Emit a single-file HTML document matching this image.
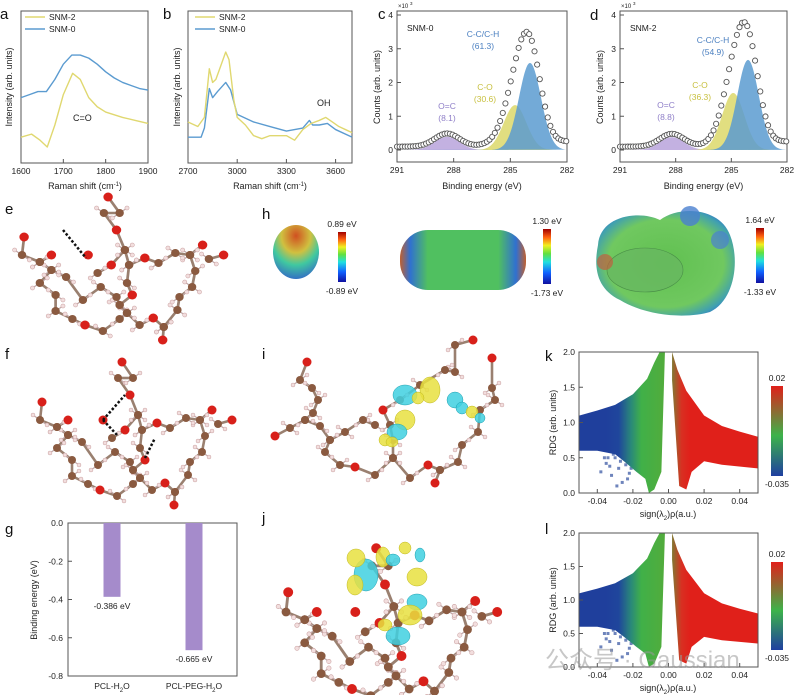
<!DOCTYPE html>
<html><head><meta charset="utf-8">
<style>
html,body{margin:0;padding:0;background:#fff;}
svg{display:block;font-family:"Liberation Sans","Noto Sans CJK SC",sans-serif;}
</style></head>
<body>
<svg id="fig" width="794" height="695" viewBox="0 0 794 695" xmlns="http://www.w3.org/2000/svg">
<defs>
<linearGradient id="rainbow" x1="0" y1="1" x2="0" y2="0">
<stop offset="0" stop-color="#1010a0"/><stop offset="0.2" stop-color="#1060ff"/><stop offset="0.4" stop-color="#20e0e0"/><stop offset="0.55" stop-color="#60e040"/><stop offset="0.7" stop-color="#f0f020"/><stop offset="0.85" stop-color="#ff6010"/><stop offset="1" stop-color="#a00000"/>
</linearGradient>
<linearGradient id="rdgbar" x1="0" y1="1" x2="0" y2="0">
<stop offset="0" stop-color="#1f3fa0"/><stop offset="0.45" stop-color="#3db34a"/><stop offset="1" stop-color="#e0201a"/>
</linearGradient>
<radialGradient id="esp1" cx="0.5" cy="0.2" r="0.9">
<stop offset="0" stop-color="#d05020"/><stop offset="0.35" stop-color="#d0c040"/><stop offset="0.6" stop-color="#40c8a0"/><stop offset="1" stop-color="#3050d0"/>
</radialGradient>
<linearGradient id="esp2" x1="0" y1="0" x2="1" y2="0">
<stop offset="0" stop-color="#c06030"/><stop offset="0.08" stop-color="#3070d0"/><stop offset="0.22" stop-color="#50c060"/><stop offset="0.78" stop-color="#50c060"/><stop offset="0.92" stop-color="#3070d0"/><stop offset="1" stop-color="#c06030"/>
</linearGradient>
<radialGradient id="esp3" cx="0.5" cy="0.5" r="0.6">
<stop offset="0" stop-color="#60c050"/><stop offset="0.7" stop-color="#70c860"/><stop offset="0.9" stop-color="#40a0b0"/><stop offset="1" stop-color="#3070d0"/>
</radialGradient>
</defs>
</svg>
<script>
// ---------- data ----------
const ramanAx=[1600,1620,1640,1660,1680,1700,1720,1740,1760,1780,1800,1820,1840,1860,1880,1900];
const ramanA0=[43,45,47,47,55,65,71,71,69,65,60,56,53,51,49,48];
const ramanA2x=[1600,1625,1645,1662,1680,1700,1722,1740,1760,1780,1800,1840,1870,1900];
const ramanA2=[17,19,15,10.5,25,45,59,55,43,37,33.5,30,28,26];
const ramanB2x=[2700,2760,2800,2830,2850,2870,2900,2930,2950,2980,3000,3050,3100,3150,3200,3300,3350,3400,3450,3500,3540,3580,3620,3660,3700];
const ramanB2=[27,24,30,62,53,55,64,73,68,41,30,25,18,16,18,18,15,22,26,28,30,27,24,22,20];
const ramanB0x=[2700,2780,2800,2830,2850,2880,2930,2960,3000,3100,3200,3300,3400,3440,3460,3500,3550,3600,3700];
const ramanB0=[17,17,23,49,43,47,53,48,32,27,24,21,23,28,25,25,26,22,17];
const xpsCenters0=[288.35,284.75,283.96];
const xpsHeights0=[0.39,1.33,2.58];
const xpsCenters2=[288.2,284.9,284.1];
const xpsHeights2=[0.38,1.69,2.67];
const xpsSigmas=[0.65,0.6,0.58];
const xpsLabels0=['O=C','C-O','C-C/C-H'];
const xpsPct0=['(8.1)','(30.6)','(61.3)'];
const xpsPct2=['(8.8)','(36.3)','(54.9)'];
const barCats=['PCL-H','PCL-PEG-H'];
const barVals=[-0.386,-0.665];
const barTicks=[0,-0.2,-0.4,-0.6,-0.8];
const rdgTicksX=[-0.04,-0.02,0,0.02,0.04];
const rdgTickLabX=['-0.04','-0.02','0.00','0.02','0.04'];
const rdgTicksY=[0,0.5,1,1.5,2];
const rdgLeftUpperX=[-0.05,-0.04,-0.03,-0.02,-0.012,-0.008,-0.005];
const rdgLeftUpper=[1.1,1.17,1.25,1.4,1.62,1.85,2.0];
const rdgLeftLowerX=[-0.002,-0.004,-0.008,-0.011,-0.013,-0.018,-0.025,-0.03,-0.04,-0.05];
const rdgLeftLower=[2.0,0.3,0.05,0.0,0.2,0.3,0.45,0.55,0.6,0.6];
const rdgRightUpperX=[0.002,0.005,0.01,0.02,0.03,0.04,0.05];
const rdgRightUpper=[2.0,1.75,1.45,1.1,0.95,0.87,0.8];
const rdgRightLowerX=[0.05,0.03,0.02,0.013,0.01,0.006,0.002];
const rdgRightLower=[0.35,0.4,0.45,0.3,0.05,0.1,1.6];
const rdgSpreadX=[-0.038,-0.035,-0.032,-0.03,-0.028,-0.026,-0.024,-0.022,-0.02,-0.036,-0.031,-0.027,-0.023,-0.029,-0.025,-0.033,-0.021,-0.034];
const rdgSpreadY=[0.3,0.42,0.25,0.5,0.35,0.15,0.4,0.28,0.5,0.5,0.55,0.45,0.2,0.1,0.55,0.38,0.35,0.5];

// ---------- helpers ----------
const NS='http://www.w3.org/2000/svg';
const svg=document.getElementById('fig');
function mk(tag,attrs,parent){const e=document.createElementNS(NS,tag);for(const k in attrs)e.setAttribute(k,attrs[k]);(parent||svg).appendChild(e);return e;}
function txt(x,y,s,opts,parent){const t=mk('text',Object.assign({x:x,y:y,'font-size':9,fill:'#222'},opts||{}),parent);t.textContent=s;return t;}
function frame(x0,y0,x1,y1,name){const r=mk('rect',{x:x0,y:y0,width:x1-x0,height:y1-y0,fill:'none',stroke:'#555','stroke-width':1});

return r;}
function letter(x,y,s){const t=txt(x,y,s,{'font-size':15,fill:'#111'});

}
function line(pts,col,name,w){const p=mk('polyline',{points:pts.map(q=>q.join(',')).join(' '),fill:'none',stroke:col,'stroke-width':w||1.4,'stroke-linejoin':'round'});

return p;}

// ---------- panel a ----------
letter(0,19,'a');
const aX=v=>21+(v-1600)/300*127, rY=I=>163-I*1.52;
frame(21,11,148,163,'plot-a-frame');
[1600,1700,1800,1900].forEach(v=>{mk('line',{x1:aX(v),y1:163,x2:aX(v),y2:159,stroke:'#555'});const t=txt(aX(v),174,v,{'text-anchor':'middle','font-size':8.5});

});
line(ramanAx.map((v,i)=>[aX(v),rY(ramanA0[i])]),'#5b9bd0','a-series-snm0');
line(ramanA2x.map((v,i)=>[aX(v),rY(ramanA2[i])]),'#e0d870','a-series-snm2');
line([[25,17],[45,17]],'#e0d870','a-legend-snm2-line');line([[25,29],[45,29]],'#5b9bd0','a-legend-snm0-line');
txt(49,20,'SNM-2',{'font-size':8.5});txt(49,32,'SNM-0',{'font-size':8.5});
txt(73,121,'C=O',{'font-size':9});
let t=txt(12,87,'Intensity (arb. units)',{'text-anchor':'middle','font-size':9,transform:'rotate(-90 12 87)'});


t=txt(85,189,'Raman shift (cm',{'text-anchor':'middle','font-size':9});mk('tspan',{'baseline-shift':'super','font-size':6},t).textContent='-1';mk('tspan',{},t).textContent=')';



// ---------- panel b ----------
letter(163,19,'b');
const bX=v=>188+(v-2700)/1000*164;
frame(188,11,352,163,'plot-b-frame');
[2700,3000,3300,3600].forEach(v=>{mk('line',{x1:bX(v),y1:163,x2:bX(v),y2:159,stroke:'#555'});t=txt(bX(v),174,v,{'text-anchor':'middle','font-size':8.5});

});
line(ramanB0x.map((v,i)=>[bX(v),rY(ramanB0[i])]),'#5b9bd0','b-series-snm0');
line(ramanB2x.map((v,i)=>[bX(v),rY(ramanB2[i])]),'#e0d870','b-series-snm2');
line([[195,17],[215,17]],'#e0d870','b-legend-snm2-line');line([[195,29],[215,29]],'#5b9bd0','b-legend-snm0-line');
txt(219,20,'SNM-2',{'font-size':8.5});txt(219,32,'SNM-0',{'font-size':8.5});
txt(317,106,'OH',{'font-size':9});
t=txt(180,87,'Intensity (arb. units)',{'text-anchor':'middle','font-size':9,transform:'rotate(-90 180 87)'});


t=txt(270,189,'Raman shift (cm',{'text-anchor':'middle','font-size':9});mk('tspan',{'baseline-shift':'super','font-size':6},t).textContent='-1';mk('tspan',{},t).textContent=')';



// ---------- XPS c,d ----------
function xps(x0,x1,centers,heights,pct,name,lab,labPos){
  const X=v=>x0+(291-v)/9*(x1-x0), Y=c=>150-c*33.75;
  frame(x0,11,x1,162,name+'-frame');
  for(let k=0;k<=4;k++){mk('line',{x1:x0,y1:Y(k),x2:x0+4,y2:Y(k),stroke:'#555'});t=txt(x0-4,Y(k)+3,k,{'text-anchor':'end','font-size':8.5});
  
  }
  [291,288,285,282].forEach(v=>{mk('line',{x1:X(v),y1:162,x2:X(v),y2:158,stroke:'#555'});t=txt(X(v),173,v,{'text-anchor':'middle','font-size':8.5});
  
  });
  txt(x0+1,8,'×10',{'font-size':6});txt(x0+13,5,'3',{'font-size':4.5});
  const g=(v,i)=>heights[i]*Math.exp(-Math.pow(v-centers[i],2)/(2*xpsSigmas[i]*xpsSigmas[i]));
  const cols=['#b9a3dc','#dcd86a','#5b9bd0'];
  const bg=v=>0.1+0.15/(1+Math.exp((v-286.3)*3));
  [0,1,2].forEach(i=>{const pts=[];for(let v=291;v>=282;v-=0.05)pts.push([X(v),Y(g(v,i))]);
    const p=mk('polygon',{points:pts.map(q=>q.join(',')).join(' '),fill:cols[i],'fill-opacity':0.85,stroke:'none'});
    
    });
  for(let v=291;v>=282;v-=0.14){const s=g(v,0)+g(v,1)+g(v,2)+bg(v);
    const c=mk('circle',{cx:X(v),cy:Y(s),r:2.6,fill:'#fff',stroke:'#555','stroke-width':0.9});
    
    }
  txt(x0+10,31,lab,{'font-size':8.5});
  const tc=['#8f7fc8','#c8c040','#4a7fc0'];
  [0,1,2].forEach(i=>{txt(labPos[i][0],labPos[i][1],xpsLabels0[i],{'text-anchor':'middle','font-size':8.5,fill:tc[i]});txt(labPos[i][0],labPos[i][1]+12,pct[i],{'text-anchor':'middle','font-size':8.5,fill:tc[i]});});
  t=txt(x0-17,87,'Counts (arb. units)',{'text-anchor':'middle','font-size':9,transform:'rotate(-90 '+(x0-17)+' 87)'});
  
  
  t=txt((x0+x1)/2,189,'Binding energy (eV)',{'text-anchor':'middle','font-size':9});
  
  
}
letter(378,19,'c');letter(590,20,'d');
xps(397,567,xpsCenters0,xpsHeights0,xpsPct0,'plot-c','SNM-0',[[447,109],[485,90],[483,37]]);
xps(620,787,xpsCenters2,xpsHeights2,xpsPct2,'plot-d','SNM-2',[[666,108],[700,88],[713,43]]);

// ---------- molecules ----------
const molF=[
 [[42,402,'O'],[40,420,'C'],[57,427,'C'],[68,420,'O']],
 [[57,427,'C'],[68,435,'C'],[57,448,'C'],[72,460,'C'],[72,476,'C'],[88,484,'C'],[100,490,'O'],[117,496,'C'],[133,484,'C'],[140,478,'C'],[152,490,'C'],[165,483,'O'],[175,492,'C'],[174,505,'O']],
 [[175,492,'C'],[188,475,'C'],[190,462,'C'],[202,452,'C'],[205,436,'C'],[200,420,'C'],[212,410,'O']],
 [[200,420,'C'],[186,418,'C'],[170,428,'C'],[157,423,'O'],[142,430,'C'],[140,448,'C'],[145,460,'O'],[133,470,'C']],
 [[68,435,'C'],[82,442,'C'],[98,465,'C'],[115,452,'C'],[130,462,'C'],[133,470,'C'],[140,478,'C']],
 [[142,430,'C'],[138,415,'C'],[130,395,'O'],[118,378,'C'],[133,378,'C'],[122,362,'O']],
 [[138,415,'C'],[125,430,'O'],[112,438,'C']],
 [[103,420,'O']],[[232,420,'O'],[218,424,'C']]
];
const molI=[
 [[275,436,'O'],[290,428,'C'],[305,420,'C'],[313,413,'C'],[318,400,'C'],[312,388,'C'],[300,380,'C'],[307,362,'O']],
 [[305,420,'C'],[320,426,'C'],[330,440,'C'],[325,452,'C'],[340,465,'C'],[355,467,'O'],[375,475,'C'],[393,458,'C'],[410,478,'C'],[428,465,'O'],[440,470,'C'],[435,483,'O']],
 [[440,470,'C'],[458,462,'C'],[462,445,'C'],[478,432,'C'],[480,410,'C'],[495,400,'C'],[492,388,'C'],[492,358,'O']],
 [[393,458,'C'],[393,440,'C'],[390,425,'C'],[383,410,'O'],[400,400,'C'],[420,385,'C'],[445,370,'C'],[455,372,'C'],[455,345,'C'],[473,340,'O']],
 [[330,440,'C'],[345,432,'C'],[363,420,'C'],[375,425,'C']]
];
const lobesI=[[405,395,12,10,'c'],[430,390,10,13,'y'],[405,420,10,10,'y'],[397,432,10,8,'c'],[385,440,6,6,'y'],[455,400,8,8,'c'],[462,408,6,6,'c'],[472,412,6,6,'y'],[480,418,5,5,'c'],[392,442,6,5,'y'],[418,398,6,6,'y']];
const lobesJ=[[366,575,12,16,'c'],[355,585,8,10,'y'],[356,558,9,9,'y'],[383,557,7,10,'y'],[417,577,10,9,'y'],[417,602,10,8,'c'],[410,615,12,10,'y'],[398,636,12,9,'c'],[385,625,7,6,'y'],[393,560,7,6,'c'],[405,548,6,6,'y'],[420,555,5,7,'c']];
function drawMol(mol,tr,name){
  const g=mk('g',{transform:tr});
  
  
  mol.forEach(ch=>{for(let i=1;i<ch.length;i++)mk('line',{x1:ch[i-1][0],y1:ch[i-1][1],x2:ch[i][0],y2:ch[i][1],stroke:'#9a8070','stroke-width':2.6},g);});
  mol.forEach(ch=>ch.forEach((a,i)=>{if(a[2]=='C'){[[-7,-5],[7,5]].forEach(o=>{const hx=a[0]+o[0]*(i%2?1:-1),hy=a[1]+o[1];mk('line',{x1:a[0],y1:a[1],x2:hx,y2:hy,stroke:'#c0a8a8','stroke-width':1.2},g);mk('circle',{cx:hx,cy:hy,r:2,fill:'#f2dede',stroke:'#c9a0a0','stroke-width':0.5},g);});}}));
  mol.forEach(ch=>ch.forEach(a=>{const at=mk('circle',{cx:a[0],cy:a[1],r:a[2]=='O'?4.5:4,fill:a[2]=='O'?'#d8201a':'#8a5a40'},g);
    
    }));
  return g;
}
function lobes(arr,name){arr.forEach(l=>{const e=mk('ellipse',{cx:l[0],cy:l[1],rx:l[2],ry:l[3],fill:l[4]=='y'?'#e8e040':'#40d0e0','fill-opacity':0.85,stroke:l[4]=='y'?'#c0b820':'#20a0b0','stroke-width':0.5});
  
  });}
letter(5,214,'e');letter(5,359,'f');letter(262,359,'i');letter(262,523,'j');
drawMol(molF,'translate(-20,-165) scale(1.05,1.0)','molecule-e');
drawMol(molF,'','molecule-f');
[[[103,420],[125,395]],[[103,420],[118,436]],[[145,458],[155,438]]].forEach(d=>{const l=mk('line',{x1:d[0][0],y1:d[0][1],x2:d[1][0],y2:d[1][1],stroke:'#111','stroke-width':2.5,'stroke-dasharray':'2.5,2'});

});
{const l=mk('line',{x1:63,y1:230,x2:86,y2:258,stroke:'#111','stroke-width':2.5,'stroke-dasharray':'2.5,2'});

}
drawMol(molI,'','molecule-i');lobes(lobesI,'orbital-lobe-i');
drawMol(molF,'translate(242,150) scale(1.1,1.1)','molecule-j');lobes(lobesJ,'orbital-lobe-j');

// ---------- panel h ESP ----------
letter(262,219,'h');
{let e=mk('ellipse',{cx:296,cy:252,rx:23,ry:27,fill:'url(#esp1)'});


e=mk('rect',{x:400,y:230,width:126,height:60,rx:28,fill:'url(#esp2)'});


e=mk('path',{d:'M598,245 C600,215 640,210 660,220 C680,205 720,208 730,235 C740,260 735,300 710,312 C690,318 650,318 620,300 C595,288 594,265 598,245 Z',fill:'url(#esp3)'});


mk('ellipse',{cx:645,cy:270,rx:38,ry:22,fill:'#68b860','fill-opacity':0.8,stroke:'#4a9048','stroke-width':0.6});
mk('circle',{cx:690,cy:216,r:10,fill:'#4a80d0','fill-opacity':0.8});mk('circle',{cx:720,cy:240,r:9,fill:'#4a80d0','fill-opacity':0.7});mk('circle',{cx:605,cy:262,r:8,fill:'#c06040','fill-opacity':0.7});}
[[338,232,'0.89 eV','-0.89 eV',282],[543,229,'1.30 eV','-1.73 eV',284],[756,228,'1.64 eV','-1.33 eV',283]].forEach((c,i)=>{
  const r=mk('rect',{x:c[0],y:c[1],width:8,height:c[4]-c[1],fill:'url(#rainbow)'});
  
  
  txt(c[0]+4,c[1]-5,c[2],{'text-anchor':'middle','font-size':8.5});
  txt(c[0]+4,c[4]+12,c[3],{'text-anchor':'middle','font-size':8.5});
});

// ---------- panel g bar ----------
letter(5,534,'g');
const gY=v=>523+(-v)/0.8*153;
frame(68,523,237,676,'plot-g-frame');
barTicks.forEach(v=>{mk('line',{x1:68,y1:gY(v),x2:72,y2:gY(v),stroke:'#555'});t=txt(63,gY(v)+3,v.toFixed(1),{'text-anchor':'end','font-size':8.5});

});
const gCx=[112,194];
barVals.forEach((v,i)=>{const b=mk('rect',{x:gCx[i]-8.5,y:gY(0),width:17,height:gY(v)-gY(0),fill:'#a58bcb'});


txt(gCx[i],gY(v)+12,v.toFixed(3)+' eV',{'text-anchor':'middle','font-size':8.5});
t=txt(gCx[i],689,barCats[i],{'text-anchor':'middle','font-size':8.5});mk('tspan',{'baseline-shift':'sub','font-size':6},t).textContent='2';mk('tspan',{},t).textContent='O';

});
t=txt(37,600,'Binding energy (eV)',{'text-anchor':'middle','font-size':9,transform:'rotate(-90 37 600)'});



// ---------- RDG k,l ----------
function rdg(y0,y1,name,cbTop,cbBot){
  const X=v=>668.5+v*1780, Y=r=>y1-(r/2)*(y1-y0);
  const gid=name+'-grad';
  const lg=mk('linearGradient',{id:gid,gradientUnits:'userSpaceOnUse',x1:X(-0.035),y1:0,x2:X(0.012),y2:0},svg.querySelector('defs'));
  [[0,'#1f3f9c'],[0.15,'#1f469c'],[0.3,'#2a8a78'],[0.42,'#40b048'],[0.7,'#52ac3c'],[0.8,'#8a7030'],[0.9,'#d83022'],[1,'#e0201a']].forEach(s=>mk('stop',{offset:s[0],'stop-color':s[1]},lg));
  rdgSpreadX.forEach((v,i)=>{const d=mk('rect',{x:X(v)-1.5,y:Y(rdgSpreadY[i])-1.5,width:3,height:3,fill:'#3050a0','fill-opacity':0.7});
    
    });
  const L=rdgLeftUpperX.map((v,i)=>[X(v),Y(rdgLeftUpper[i])]).concat(rdgLeftLowerX.map((v,i)=>[X(v),Y(rdgLeftLower[i])]));
  let p=mk('polygon',{points:L.map(q=>q.join(',')).join(' '),fill:'url(#'+gid+')'});
  
  
  const R=rdgRightUpperX.map((v,i)=>[X(v),Y(rdgRightUpper[i])]).concat(rdgRightLowerX.map((v,i)=>[X(v),Y(rdgRightLower[i])]));
  p=mk('polygon',{points:R.map(q=>q.join(',')).join(' '),fill:'url(#'+gid+')'});
  
  
  frame(579,y0,758,y1,name+'-frame');
  rdgTicksY.forEach(v=>{mk('line',{x1:579,y1:Y(v),x2:583,y2:Y(v),stroke:'#555'});t=txt(575,Y(v)+3,v.toFixed(1),{'text-anchor':'end','font-size':8.5});
  
  });
  rdgTicksX.forEach((v,i)=>{mk('line',{x1:X(v),y1:y1,x2:X(v),y2:y1-4,stroke:'#555'});t=txt(X(v),y1+11,rdgTickLabX[i],{'text-anchor':'middle','font-size':8.5});
  
  });
  t=txt(556,(y0+y1)/2,'RDG (arb. units)',{'text-anchor':'middle','font-size':9,transform:'rotate(-90 556 '+((y0+y1)/2)+')'});
  
  
  t=txt(668,y1+24,'sign(λ',{'text-anchor':'middle','font-size':9});mk('tspan',{'baseline-shift':'sub','font-size':6},t).textContent='2';mk('tspan',{},t).textContent=')ρ(a.u.)';
  
  
  const cb=mk('rect',{x:771,y:cbTop,width:12,height:cbBot-cbTop,fill:'url(#rdgbar)'});
  
  
  txt(777,cbTop-5,'0.02',{'text-anchor':'middle','font-size':8.5});
  txt(777,cbBot+11,'-0.035',{'text-anchor':'middle','font-size':8.5});
}
letter(545,361,'k');letter(545,534,'l');
rdg(352,493,'plot-k',386,476);
rdg(533,667,'plot-l',562,650);

// watermark
t=txt(545,668,'公众号 · Gaussian',{'font-size':24,fill:'#999','fill-opacity':0.55});


</script>
</body></html>
